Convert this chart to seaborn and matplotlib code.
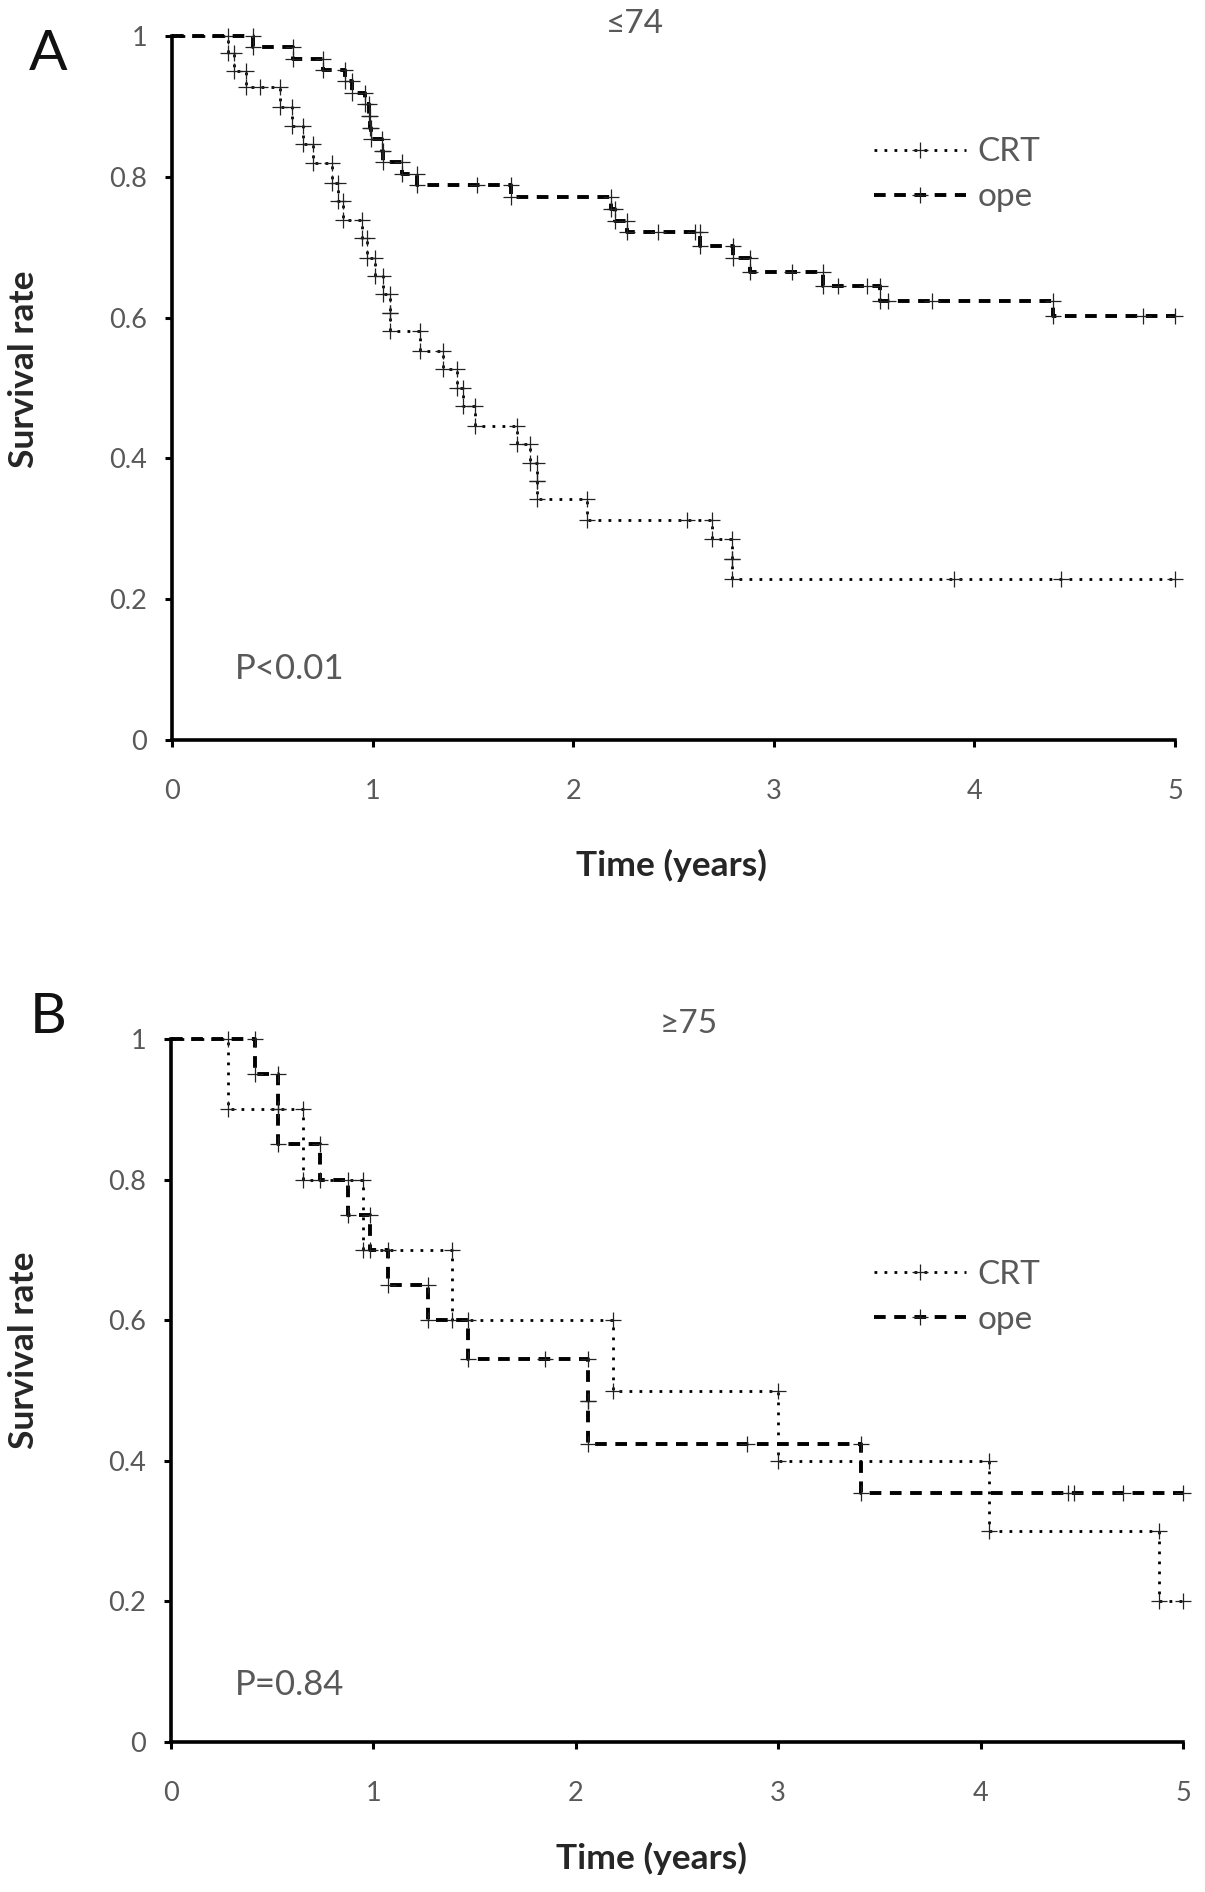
import numpy as np
import pandas as pd
import matplotlib
matplotlib.use("Agg")
import matplotlib.pyplot as plt
import seaborn as sns
from matplotlib.lines import Line2D

# ---------------- data ----------------
# Panel A: age <= 74
a_crt_event_t = [0.28, 0.31, 0.37, 0.54, 0.60, 0.655, 0.705, 0.796, 0.829, 0.854,
                 0.946, 0.971, 1.012, 1.05, 1.087, 1.087, 1.236, 1.353, 1.419, 1.452,
                 1.510, 1.718, 1.785, 1.818, 1.818, 2.067, 2.690, 2.790, 2.790]
a_crt_event_s = [0.976, 0.950, 0.927, 0.899, 0.872, 0.846, 0.819, 0.791, 0.766, 0.739,
                 0.713, 0.685, 0.659, 0.633, 0.607, 0.581, 0.553, 0.527, 0.500, 0.474,
                 0.446, 0.420, 0.394, 0.368, 0.342, 0.313, 0.285, 0.257, 0.228]
a_crt_censor_t = [0.44, 2.566, 3.90, 4.43, 5.0]

a_ope_event_t = [0.405, 0.605, 0.754, 0.862, 0.896, 0.962, 0.98, 0.985, 0.99, 1.045,
                 1.053, 1.145, 1.22, 1.69, 2.19, 2.21, 2.267, 2.632, 2.798, 2.88,
                 3.247, 3.53, 4.393]
a_ope_event_s = [0.984, 0.968, 0.952, 0.936, 0.919, 0.903, 0.887, 0.870, 0.854, 0.837,
                 0.821, 0.804, 0.788, 0.771, 0.754, 0.737, 0.721, 0.702, 0.685, 0.665,
                 0.645, 0.624, 0.602]
a_ope_censor_t = [1.52, 2.424, 2.607, 3.089, 3.32, 3.463, 3.571, 3.787, 4.842, 5.0]

# Panel B: age >= 75
b_crt_event_t = [0.283, 0.654, 0.95, 1.387, 2.185, 3.0, 4.04, 4.88]
b_crt_event_s = [0.9, 0.8, 0.7, 0.6, 0.5, 0.4, 0.3, 0.2]
b_crt_censor_t = [5.0]

b_ope_event_t = [0.415, 0.53, 0.53, 0.736, 0.876, 0.983, 1.074, 1.271, 1.469,
                 2.062, 2.062, 3.41]
b_ope_event_s = [0.95, 0.9, 0.85, 0.8, 0.75, 0.7, 0.65, 0.6, 0.545,
                 0.485, 0.424, 0.354]
b_ope_censor_t = [1.848, 2.844, 4.43, 4.46, 4.705, 5.0]

groups = ["CRT", "ope"]
panel_letters = ["A", "B"]
panel_titles = ["\u226474", "\u226575"]
p_texts = ["P<0.01", "P=0.84"]
x_ticks = [0, 1, 2, 3, 4, 5]
y_ticks = [0, 0.2, 0.4, 0.6, 0.8, 1.0]
y_tick_labels = ["0", "0.2", "0.4", "0.6", "0.8", "1"]


def km_path(ev_t, ev_s, cen_t):
    pts = [(0.0, 1.0)]
    s = 1.0
    items = sorted([(t, 0, v) for t, v in zip(ev_t, ev_s)] +
                   [(t, 1, None) for t in cen_t], key=lambda x: (x[0], x[1]))
    for t, kind, v in items:
        if kind == 0:
            pts.append((t, s))
            pts.append((t, v))
            s = v
        else:
            pts.append((t, s))
    return pd.DataFrame(pts, columns=["time", "surv"])


# ---------------- style ----------------
sns.set_theme(style="white")
FONT = ["Lato", "DejaVu Sans"]
plt.rcParams["font.family"] = FONT

W, H = 1205, 1892
fig = plt.figure(figsize=(W / 100, H / 100), dpi=100)


def fx(px):
    return px / W


def fy(py):
    return 1 - py / H


# axes rectangles in pixels: (left, right, top(y=1), bottom(y=0))
rects = [(172, 1175, 36, 740), (171, 1183, 1039, 1742)]
data = [
    {"CRT": (a_crt_event_t, a_crt_event_s, a_crt_censor_t),
     "ope": (a_ope_event_t, a_ope_event_s, a_ope_censor_t)},
    {"CRT": (b_crt_event_t, b_crt_event_s, b_crt_censor_t),
     "ope": (b_ope_event_t, b_ope_event_s, b_ope_censor_t)},
]

line_styles = {
    "CRT": dict(linestyle=(0, (1.0, 2.6)), linewidth=2.0),
    "ope": dict(linestyle=(0, (3.0, 2.2)), linewidth=2.8),
}
marker_kw = dict(marker="+", markersize=11.5, markeredgewidth=0.9,
                 markeredgecolor="#222222")

ylab_pos = [(24, 369), (24, 1350)]
xlab_pos = [(671, 865), (651, 1858)]
title_pos = [(635, 24), (689, 1024)]
letter_pos = [(48, 55), (48, 1017)]
p_pos = [(235, 669), (235, 1685)]
leg_anchor = [(0.70, 0.803), (0.695, 0.633)]

GRAY = "#595959"

for i, (l, r, t, b) in enumerate(rects):
    ax = fig.add_axes([fx(l), fy(b), fx(r - l), (b - t) / H])
    for g in groups:
        ev_t, ev_s, cen_t = data[i][g]
        df = km_path(ev_t, ev_s, cen_t)
        sns.lineplot(data=df, x="time", y="surv", ax=ax, estimator=None,
                     sort=False, color="black", clip_on=False,
                     markevery=list(range(1, len(df))),
                     **line_styles[g], **marker_kw)
    ax.set_xlim(0, 5)
    ax.set_ylim(0, 1)
    ax.set_xticks(x_ticks)
    ax.set_xticklabels([str(v) for v in x_ticks])
    ax.set_yticks(y_ticks)
    ax.set_yticklabels(y_tick_labels)
    for s in ["top", "right"]:
        ax.spines[s].set_visible(False)
    for s in ["left", "bottom"]:
        ax.spines[s].set_linewidth(2.6)
        ax.spines[s].set_color("black")
    ax.tick_params(axis="both", which="major", direction="out", length=5,
                   width=2.2, color="black", labelsize=19.5, labelcolor=GRAY,
                   left=True, bottom=True)
    ax.tick_params(axis="x", pad=23)
    ax.tick_params(axis="y", pad=13)
    ax.set_xlabel("")
    ax.set_ylabel("")
    ax.patch.set_alpha(0)

    handles = [Line2D([], [], color="black", **line_styles[g], **marker_kw)
               for g in groups]
    ax.legend(handles, groups, loc="center left", bbox_to_anchor=leg_anchor[i],
              frameon=False, fontsize=24, handlelength=2.75, handletextpad=0.35,
              labelspacing=0.45, borderpad=0, borderaxespad=0, labelcolor=GRAY)

    fig.text(fx(ylab_pos[i][0]), fy(ylab_pos[i][1]), "Survival rate",
             rotation=90, ha="center", va="center", fontsize=25.5,
             fontweight="bold", color="#262626")
    fig.text(fx(xlab_pos[i][0]), fy(xlab_pos[i][1]), "Time (years)",
             ha="center", va="center", fontsize=25.5, fontweight="bold",
             color="#262626")
    fig.text(fx(title_pos[i][0]), fy(title_pos[i][1]), panel_titles[i],
             ha="center", va="center", fontsize=24, color=GRAY)
    fig.text(fx(letter_pos[i][0]), fy(letter_pos[i][1]), panel_letters[i],
             ha="center", va="center", fontsize=41, color="#111111")
    fig.text(fx(p_pos[i][0]), fy(p_pos[i][1]), p_texts[i],
             ha="left", va="center", fontsize=25, color=GRAY)

fig.savefig("out.png", dpi=100, facecolor="white")
